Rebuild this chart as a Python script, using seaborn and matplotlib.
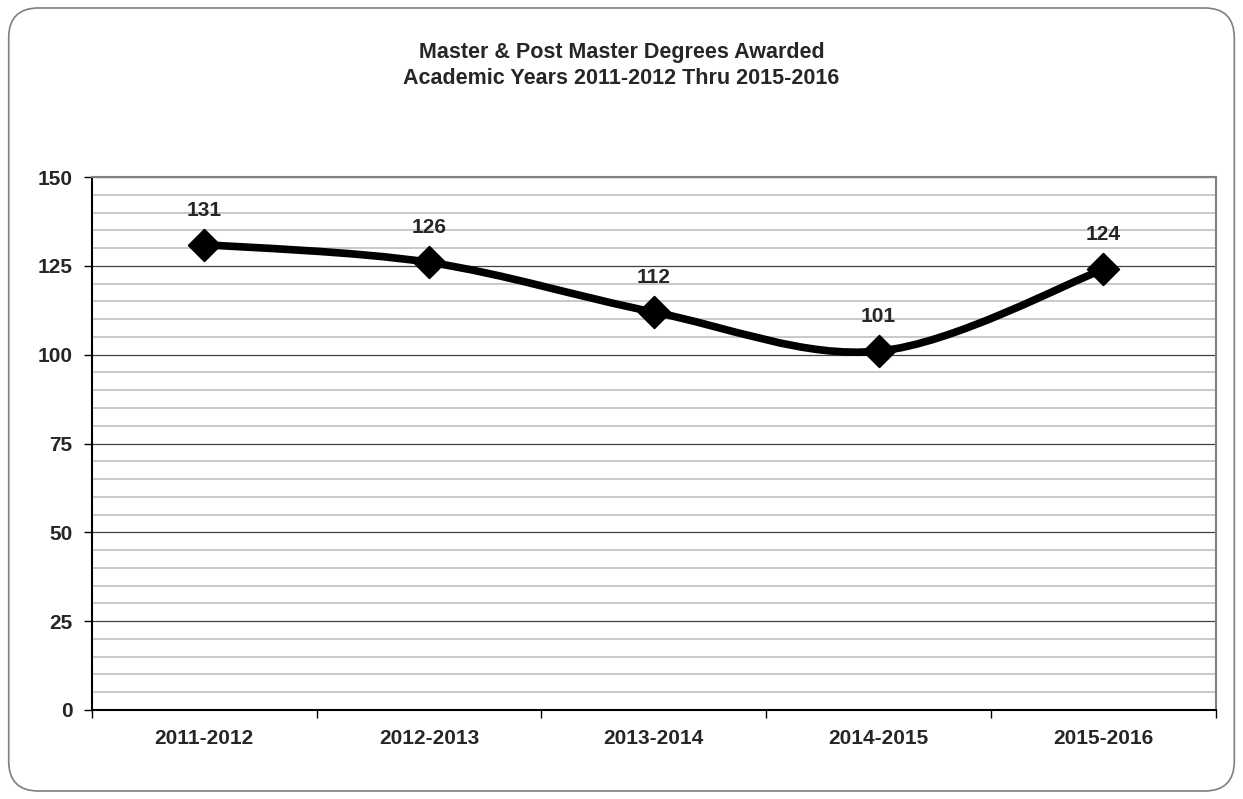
import matplotlib
matplotlib.use("Agg")
import matplotlib.pyplot as plt
import seaborn as sns
import pandas as pd
from matplotlib.path import Path
from matplotlib.patches import PathPatch, FancyBboxPatch
from matplotlib.ticker import MultipleLocator

# Chart data
years = ["2011-2012", "2012-2013", "2013-2014", "2014-2015", "2015-2016"]
degrees = [131, 126, 112, 101, 124]
title = "Master & Post Master Degrees Awarded\nAcademic Years 2011-2012 Thru 2015-2016"

sns.set_theme(style="white")
plt.rcParams["font.family"] = ["Liberation Sans Narrow", "Liberation Sans", "DejaVu Sans"]
plt.rcParams["font.weight"] = "bold"

df = pd.DataFrame({"year": years, "degrees": degrees})

fig = plt.figure(figsize=(12.43, 7.99), dpi=100)
ax = fig.add_axes([0.074, 0.1114, 0.904, 0.667])

# rounded chart border
fig.patches.append(FancyBboxPatch((0.007, 0.01), 0.986, 0.98,
                                  boxstyle="round,pad=0,rounding_size=0.024",
                                  transform=fig.transFigure, fill=False,
                                  edgecolor="#7f7f7f", linewidth=1.2,
                                  mutation_aspect=1243 / 799))

# smoothed line (Catmull-Rom style bezier like Excel's smooth line)
xs = list(range(len(degrees)))
verts = [(xs[0], degrees[0])]
codes = [Path.MOVETO]
n = len(degrees)
for i in range(n - 1):
    p0 = (xs[max(i - 1, 0)], degrees[max(i - 1, 0)])
    p1 = (xs[i], degrees[i])
    p2 = (xs[i + 1], degrees[i + 1])
    p3 = (xs[min(i + 2, n - 1)], degrees[min(i + 2, n - 1)])
    c1 = (p1[0] + (p2[0] - p0[0]) / 6, p1[1] + (p2[1] - p0[1]) / 6)
    c2 = (p2[0] - (p3[0] - p1[0]) / 6, p2[1] - (p3[1] - p1[1]) / 6)
    verts += [c1, c2, p2]
    codes += [Path.CURVE4] * 3
ax.add_patch(PathPatch(Path(verts, codes), fill=False, edgecolor="black",
                       linewidth=5.5, capstyle="round", joinstyle="round", zorder=3))

sns.scatterplot(data=df, x="year", y="degrees", marker="D", s=260,
                color="black", edgecolor="black", zorder=4, ax=ax, legend=False)

for i, v in enumerate(degrees):
    ax.annotate(str(v), (i, v), xytext=(0, 18), textcoords="offset points",
                ha="center", va="bottom", fontsize=15, fontweight="bold")

ax.set_xlim(-0.5, 4.5)
ax.set_ylim(0, 150)
ax.yaxis.set_major_locator(MultipleLocator(25))
ax.yaxis.set_minor_locator(MultipleLocator(5))
ax.grid(axis="y", which="minor", color="#c0c0c0", linewidth=1.2)
ax.grid(axis="y", which="major", color="#404040", linewidth=0.9)
ax.set_axisbelow(True)

ax.set_xticks(range(len(years)))
ax.set_xticklabels(years)
ax.set_xticks([i + 0.5 for i in range(-1, len(years))], minor=True)
ax.tick_params(axis="x", which="major", length=0, pad=14, labelsize=15)
ax.tick_params(axis="x", which="minor", length=6, width=1, color="black", bottom=True)
ax.tick_params(axis="y", which="major", length=6, width=1, color="black", left=True,
               pad=8, labelsize=15)
ax.tick_params(axis="y", which="minor", length=0)
for lab in ax.get_xticklabels() + ax.get_yticklabels():
    lab.set_fontweight("bold")

ax.set_xlabel("")
ax.set_ylabel("")
for side in ["left", "bottom"]:
    ax.spines[side].set_color("black")
    ax.spines[side].set_linewidth(1.5)
for side in ["top", "right"]:
    ax.spines[side].set_color("#808080")
    ax.spines[side].set_linewidth(1.5)

fig.text(0.5, 0.918, title, ha="center", va="center", fontsize=15.5,
         fontweight="bold", linespacing=1.35)

fig.savefig("out.png", dpi=100)
